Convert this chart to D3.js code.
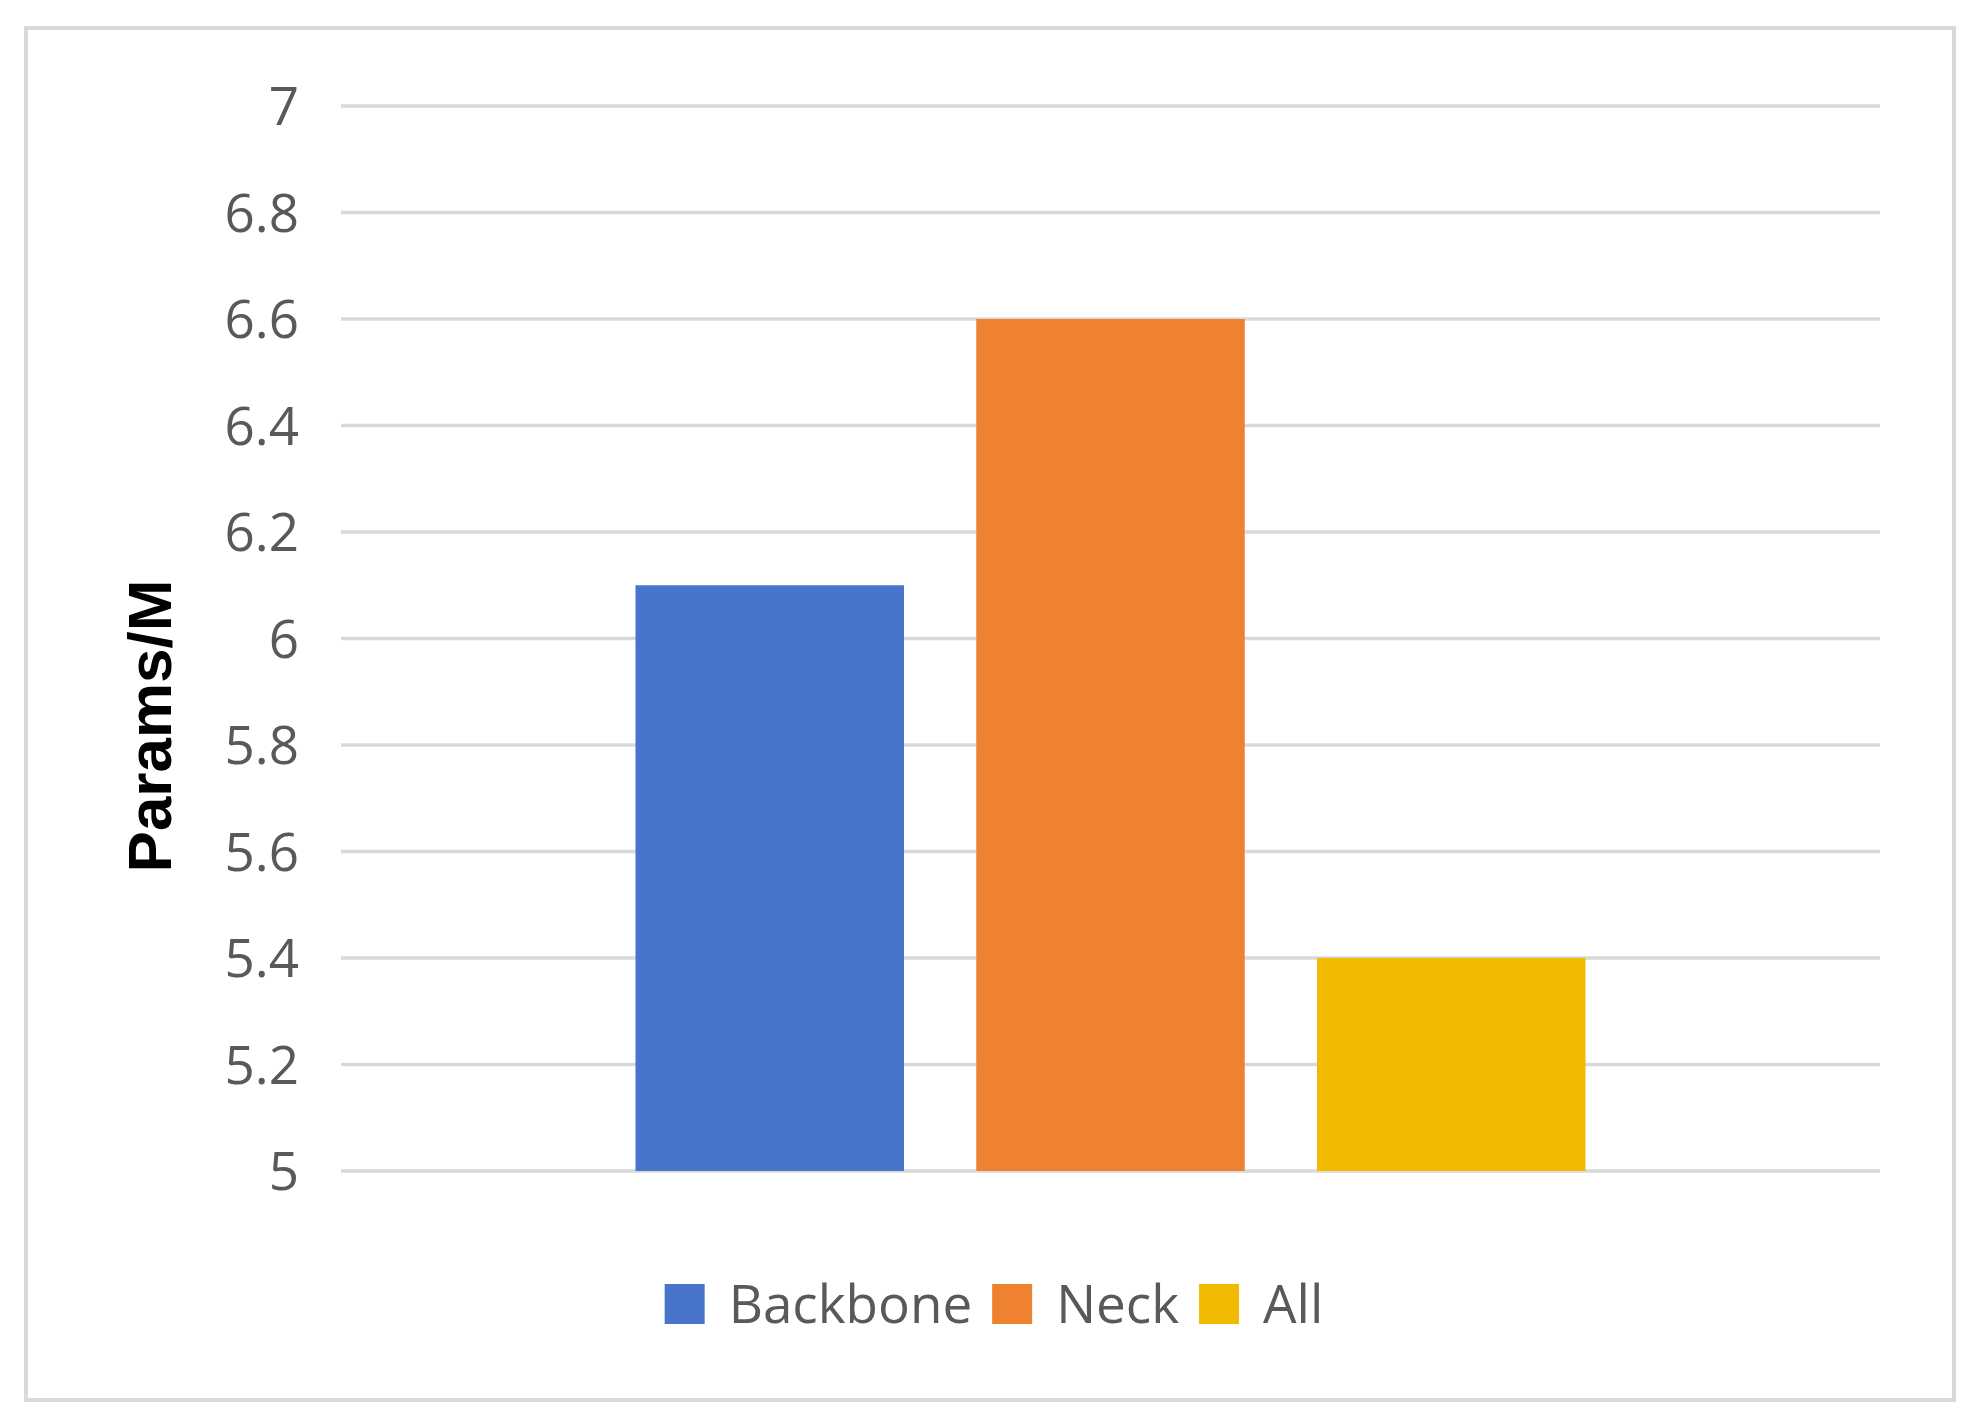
<!DOCTYPE html>
<html lang="en">
<head>
    <meta charset="UTF-8">
    <title>Params</title>
    <script src="https://cdn.jsdelivr.net/npm/d3@7"></script>
    <style>
        body { margin: 0; background: #fff; }
        .tick-label { font-family: "Open Sans", sans-serif; font-size: 53px; fill: #595959; }
        .legend-label { font-family: "Open Sans", sans-serif; font-size: 53px; fill: #595959; }
        .axis-title { font-family: "Liberation Sans", Arial, sans-serif; font-size: 62px; font-weight: bold; fill: #000; }
    </style>
</head>
<body>
<script>
    // data
    const series = ["Backbone", "Neck", "All"]
    const values = [6.1, 6.6, 5.4]
    const colors = ["#4874c9", "#ee8231", "#f1bb03"]
    const yTicks = [5, 5.2, 5.4, 5.6, 5.8, 6, 6.2, 6.4, 6.6, 6.8, 7]
    const yTitle = "Params/M"

    const width = 1979, height = 1428
    const plot = {left: 341, right: 1880, top: 106, bottom: 1171}

    const svg = d3.select("body").append("svg").attr("width", width).attr("height", height)

    // chart frame
    svg.append("rect")
        .attr("x", 26).attr("y", 28)
        .attr("width", 1928).attr("height", 1372)
        .attr("fill", "#fff")
        .attr("stroke", "#d9d9d9").attr("stroke-width", 4)

    const y = d3.scaleLinear().domain([5, 7]).range([plot.bottom, plot.top])
    const x0 = d3.scaleBand().domain([""]).range([plot.left, plot.right]).paddingOuter(0.31)
    const x1 = d3.scaleBand().domain(series).range([x0(""), x0("") + x0.bandwidth()]).paddingInner(0.212)

    // gridlines
    svg.append("g").selectAll("line").data(yTicks)
        .join("line")
        .attr("x1", plot.left).attr("x2", plot.right)
        .attr("y1", d => y(d)).attr("y2", d => y(d))
        .attr("stroke", "#d9d9d9").attr("stroke-width", 3.5)

    // tick labels
    svg.append("g").selectAll("text").data(yTicks)
        .join("text")
        .attr("class", "tick-label")
        .attr("x", 299)
        .attr("y", d => y(d))
        .attr("text-anchor", "end")
        .attr("dy", "0.36em")
        .text(d => d3.format("~g")(d))

    // bars
    svg.append("g").selectAll("rect").data(series)
        .join("rect")
        .attr("x", d => x1(d))
        .attr("width", x1.bandwidth())
        .attr("y", (d, i) => y(values[i]))
        .attr("height", (d, i) => y(5) - y(values[i]))
        .attr("fill", (d, i) => colors[i])

    // y axis title
    svg.append("text")
        .attr("class", "axis-title")
        .attr("transform", "translate(171,726) rotate(-90)")
        .attr("text-anchor", "middle")
        .text(yTitle)

    // legend, centred in the frame
    const legend = svg.append("g")
    const sq = 40, gapText = 24, gapItem = 20
    let cx = 0
    series.forEach(function (s, i) {
        legend.append("rect")
            .attr("x", cx).attr("y", 1284)
            .attr("width", sq).attr("height", sq)
            .attr("fill", colors[i])
        const t = legend.append("text")
            .attr("class", "legend-label")
            .attr("x", cx + sq + gapText)
            .attr("y", 1323)
            .text(s)
        cx += sq + gapText + t.node().getComputedTextLength() + gapItem
    })
    const legendW = cx - gapItem
    legend.attr("transform", `translate(${994 - legendW / 2},0)`)
</script>
</body>
</html>
